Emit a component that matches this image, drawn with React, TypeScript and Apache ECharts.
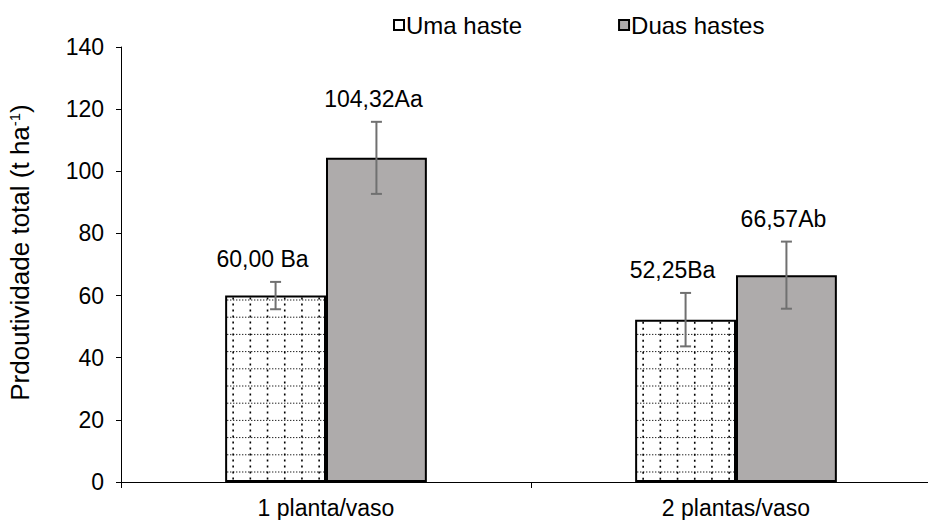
import React, { useEffect, useRef } from "react";
import * as echarts from "echarts";

// Treatments on the category axis
const categories = ["1 planta/vaso", "2 plantas/vaso"];
const seriesNames = ["Uma haste", "Duas hastes"];

// Mean total yield (t ha-1) and error bar half-widths
const umaValues = [60.0, 52.25];
const umaErrors = [4.4, 8.6];
const duasValues = [104.32, 66.57];
const duasErrors = [11.6, 10.8];

// Letters of the mean comparison test shown after each value
const umaLetters = [" Ba", "Ba"];
const duasLetters = ["Aa", "Ab"];

const yTicks = [0, 20, 40, 60, 80, 100, 120, 140];

const FONT = "'Liberation Sans', Arial, sans-serif";
const FS = 23;
const BAR_FRACTION = 0.246; // bar width as a share of the category band
const GREY_FILL = "#aeabab";
const ERR_COLOR = "#707070";

const fmt = (v: number) => v.toFixed(2).replace(".", ",");

export default function App() {
  const ref = useRef<HTMLDivElement>(null);

  useEffect(() => {
    if (!ref.current) return;
    const chart = echarts.init(ref.current, null, { renderer: "svg" });

    // Dotted grid filling the "Uma haste" bars
    const patternItem = (params: any, api: any) => {
      const idx = api.value(0);
      const val = api.value(1);
      const band = api.size([1, 0])[0];
      const bw = band * BAR_FRACTION;
      const base = api.coord([idx, 0]);
      const top = api.coord([idx, val]);
      const left = base[0] - bw;
      const right = base[0];
      const bottom = base[1];
      const children: any[] = [];
      const step = 17.2;
      for (let x = left + 8; x < right - 2; x += step) {
        children.push({
          type: "line",
          shape: { x1: x, y1: top[1] + 2, x2: x, y2: bottom - 1 },
          style: { stroke: "#000", lineWidth: 1.6, lineDash: [2, 4] },
          silent: true,
        });
      }
      for (let y = bottom - 10; y > top[1] + 2; y -= step) {
        children.push({
          type: "line",
          shape: { x1: left + 2, y1: y, x2: right - 2, y2: y },
          style: { stroke: "#000", lineWidth: 1, lineDash: [1.2, 1.8] },
          silent: true,
        });
      }
      return { type: "group", children };
    };

    // Error bars plus the value/letter label above each one
    const makeErrorItem = (side: number, letters: string[], dx: number) =>
      (params: any, api: any) => {
        const idx = api.value(0);
        const mean = api.value(1);
        const err = api.value(2);
        const band = api.size([1, 0])[0];
        const bw = band * BAR_FRACTION;
        const c = api.coord([idx, mean]);
        const x = c[0] + side * bw / 2;
        const hi = api.coord([idx, mean + err])[1];
        const lo = api.coord([idx, mean - err])[1];
        const cap = 5.5;
        const lineStyle = { stroke: ERR_COLOR, lineWidth: 2 };
        return {
          type: "group",
          children: [
            { type: "line", shape: { x1: x, y1: hi, x2: x, y2: lo }, style: lineStyle },
            { type: "line", shape: { x1: x - cap, y1: hi, x2: x + cap, y2: hi }, style: lineStyle },
            { type: "line", shape: { x1: x - cap, y1: lo, x2: x + cap, y2: lo }, style: lineStyle },
            {
              type: "text",
              x: x + dx,
              y: hi - 23,
              style: {
                text: fmt(mean) + letters[params.dataIndex],
                fill: "#000",
                font: `${FS}px ${FONT}`,
                align: "center",
                verticalAlign: "middle",
              },
            },
          ],
        };
      };

    chart.setOption({
      animation: false,
      textStyle: { fontFamily: FONT },
      legend: {
        top: 8,
        left: 388,
        itemWidth: 10,
        itemHeight: 10,
        itemGap: 96,
        textStyle: { fontSize: 24, color: "#000", fontFamily: FONT, padding: [0, 0, 0, -3] },
        data: [
          { name: seriesNames[0], icon: "rect", itemStyle: { color: "#fff", borderColor: "#000", borderWidth: 2 } },
          { name: seriesNames[1], icon: "rect", itemStyle: { color: GREY_FILL, borderColor: "#000", borderWidth: 2 } },
        ],
      },
      grid: {
        left: 121,
        width: 820,
        top: 47,
        height: 435,
        containLabel: false,
        outerBoundsMode: "none",
      },
      xAxis: {
        type: "category",
        data: categories,
        axisLine: { lineStyle: { color: "#000", width: 1 } },
        axisTick: { show: true, length: 6, lineStyle: { color: "#000" } },
        axisLabel: { color: "#000", fontSize: FS, margin: 14, fontFamily: FONT },
      },
      yAxis: {
        type: "value",
        min: 0,
        max: yTicks[yTicks.length - 1],
        interval: yTicks[1] - yTicks[0],
        name: "Prdoutividade total (t ha{sup|-1})",
        nameLocation: "middle",
        nameGap: 88,
        nameTextStyle: {
          color: "#000",
          fontSize: 26,
          fontFamily: FONT,
          padding: [0, 0, 0, 24],
          rich: {
            sup: { fontSize: 15, verticalAlign: "top", fontFamily: FONT, color: "#000", padding: [0, 0, 11, 0] },
          },
        },
        axisLine: { show: true, lineStyle: { color: "#000", width: 1 } },
        axisTick: { show: true, length: 5, lineStyle: { color: "#000" } },
        axisLabel: { color: "#000", fontSize: FS, margin: 17, fontFamily: FONT },
        splitLine: { show: false },
      },
      series: [
        {
          name: seriesNames[0],
          type: "bar",
          data: umaValues,
          barWidth: `${BAR_FRACTION * 100}%`,
          barGap: "0%",
          itemStyle: { color: "#fff", borderColor: "#000", borderWidth: 2 },
        },
        {
          name: seriesNames[1],
          type: "bar",
          data: duasValues,
          barWidth: `${BAR_FRACTION * 100}%`,
          barGap: "0%",
          itemStyle: { color: GREY_FILL, borderColor: "#000", borderWidth: 2 },
        },
        {
          type: "custom",
          silent: true,
          z: 3,
          renderItem: patternItem,
          data: umaValues.map((v, i) => [i, v]),
        },
        {
          type: "custom",
          silent: true,
          z: 4,
          renderItem: makeErrorItem(-1, umaLetters, -13),
          data: umaValues.map((v, i) => [i, v, umaErrors[i]]),
        },
        {
          type: "custom",
          silent: true,
          z: 4,
          renderItem: makeErrorItem(1, duasLetters, -3),
          data: duasValues.map((v, i) => [i, v, duasErrors[i]]),
        },
      ],
    });

    return () => chart.dispose();
  }, []);

  return (
    <div
      ref={ref}
      style={{ position: "absolute", left: 0, top: 0, width: 928, height: 520 }}
    />
  );
}
